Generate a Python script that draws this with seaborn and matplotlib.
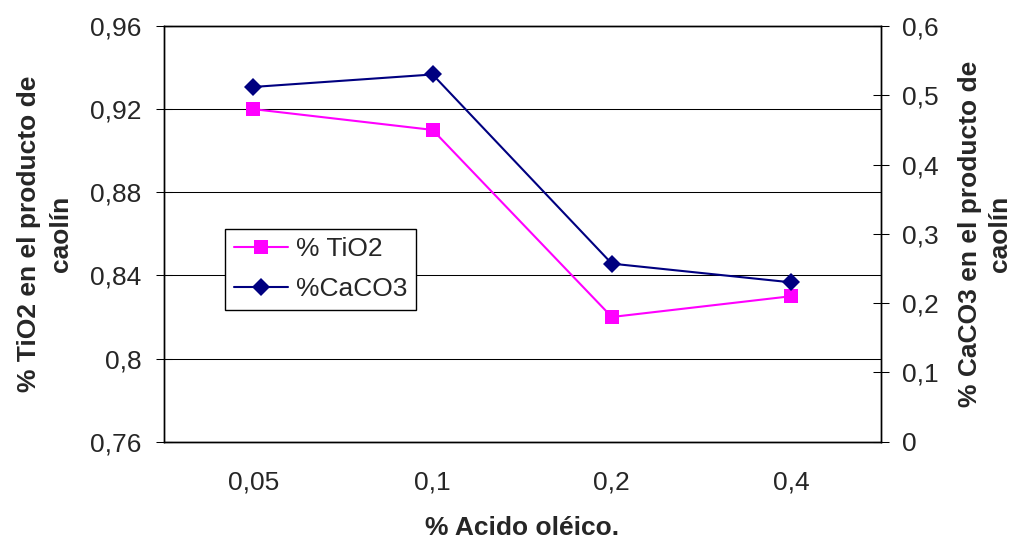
import numpy as np
import pandas as pd
import matplotlib
matplotlib.use("Agg")
import matplotlib.pyplot as plt
from matplotlib.lines import Line2D
import seaborn as sns

# Data: oleic acid dosage vs. TiO2 and CaCO3 content in the kaolin product
acido = ["0,05", "0,1", "0,2", "0,4"]
tio2 = [0.92, 0.91, 0.82, 0.83]
caco3 = [0.512, 0.530, 0.257, 0.230]

left_ticks = [0.76, 0.80, 0.84, 0.88, 0.92, 0.96]
left_labels = ["0,76", "0,8", "0,84", "0,88", "0,92", "0,96"]
right_ticks = [0.0, 0.1, 0.2, 0.3, 0.4, 0.5, 0.6]
right_labels = ["0", "0,1", "0,2", "0,3", "0,4", "0,5", "0,6"]

sns.set_style("white")
plt.rcParams["font.family"] = ["Liberation Sans", "DejaVu Sans"]

df = pd.DataFrame({"pos": np.arange(len(acido)), "acido": acido,
                   "TiO2": tio2, "CaCO3": caco3})

FS = 19
MAG = "#FF00FF"
NAVY = "#000080"
SQ = 9.8
DI = 9.5

fig = plt.figure(figsize=(10.15, 5.4), dpi=100)
ax = fig.add_axes([0.1613, 0.182, 0.7064, 0.7699])
ax2 = ax.twinx()

sns.lineplot(data=df, x="pos", y="TiO2", ax=ax, color=MAG, lw=1.5,
             marker="s", markersize=SQ, markeredgewidth=0, zorder=3)
sns.lineplot(data=df, x="pos", y="CaCO3", ax=ax2, color=NAVY, lw=1.5,
             marker="D", markersize=DI, markeredgewidth=0, zorder=3)

# Left axis
ax.set_ylim(0.76, 0.96)
ax.set_yticks(left_ticks)
ax.set_yticklabels(left_labels)
ax.yaxis.grid(True, color="black", lw=0.75)
ax.set_axisbelow(True)

# Right axis
ax2.set_ylim(0, 0.6)
ax2.set_yticks(right_ticks)
ax2.set_yticklabels(right_labels)

# Category axis: ticks on the boundaries, labels at the centres
ax.set_xlim(-0.5, len(acido) - 0.5)
ax.set_xticks(np.arange(-0.5, len(acido), 1.0))
ax.set_xticklabels([])
ax.set_xticks(df["pos"], minor=True)
ax.set_xticklabels(acido, minor=True)

ax.tick_params(axis="x", which="major", direction="inout", length=12,
               width=0.75, color="black")
ax.tick_params(axis="x", which="minor", length=0, pad=21, labelsize=FS)
ax.tick_params(axis="y", direction="inout", length=12, width=0.75,
               color="black", pad=10, labelsize=FS, left=True)
ax2.tick_params(axis="y", direction="inout", length=12, width=0.75,
                color="black", pad=9, labelsize=FS, right=True)

for a in (ax, ax2):
    for s in a.spines.values():
        s.set_color("black")
        s.set_linewidth(1.0)

ax.set_xlabel("% Acido oléico.", fontsize=FS, fontweight="bold", labelpad=15)
ax.set_ylabel("% TiO2 en el producto de\ncaolín", fontsize=FS,
              fontweight="bold", labelpad=12, linespacing=1.45)
ax2.set_ylabel("% CaCO3 en el producto de\ncaolín", fontsize=FS,
               fontweight="bold", labelpad=14, linespacing=1.35)

handles = [
    Line2D([], [], color=MAG, lw=1.5, marker="s", markersize=SQ,
           markeredgewidth=0),
    Line2D([], [], color=NAVY, lw=1.5, marker="D", markersize=DI,
           markeredgewidth=0),
]
leg = ax.legend(handles, ["% TiO2", "%CaCO3"], loc="upper left",
                bbox_to_anchor=(0.0859, 0.5117), borderaxespad=0,
                fontsize=FS, frameon=True, fancybox=False, shadow=False,
                framealpha=1, edgecolor="black", handlelength=2.05,
                handletextpad=0.3, labelspacing=0.6, borderpad=0.32)
leg.get_frame().set_linewidth(1.0)
leg.set_zorder(5)

fig.savefig("out.png", dpi=100, facecolor="white")
